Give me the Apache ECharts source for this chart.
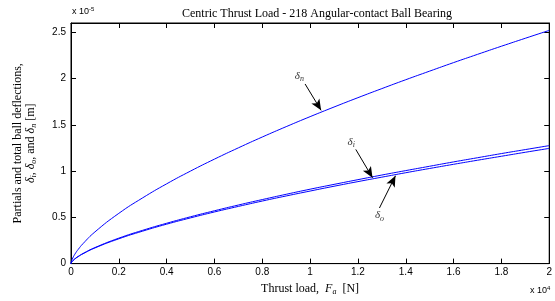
<!DOCTYPE html>
<html>
<head>
<meta charset="utf-8">
<script src="https://cdn.jsdelivr.net/npm/echarts@6/dist/echarts.min.js"></script>
<style>
  html, body { margin: 0; padding: 0; background: #fff; }
  #chart { width: 555px; height: 301px; }
</style>
</head>
<body>
<div id="chart"></div>
<script>
// thrust load, units of 1e4 N
var thrustLoad = [0, 0.002, 0.005, 0.01, 0.02, 0.03, 0.05, 0.1, 0.2, 0.3, 0.4, 0.5, 0.6, 0.7,
  0.8, 0.9, 1.0, 1.1, 1.2, 1.3, 1.4, 1.5, 1.6, 1.7, 1.8, 1.9, 2.0];
// deflections, units of 1e-5 m
var deltaN = [0, 0.025, 0.046, 0.074, 0.117, 0.153, 0.215, 0.342, 0.543, 0.711, 0.862, 1.000,
  1.129, 1.251, 1.368, 1.480, 1.588, 1.692, 1.793, 1.891, 1.987, 2.080, 2.172, 2.261, 2.349, 2.435, 2.520];
var deltaI = [0, 0.013, 0.023, 0.037, 0.059, 0.077, 0.109, 0.173, 0.275, 0.360, 0.436, 0.506,
  0.571, 0.633, 0.692, 0.749, 0.804, 0.856, 0.907, 0.957, 1.005, 1.052, 1.099, 1.144, 1.189, 1.232, 1.275];
var deltaO = [0, 0.012, 0.023, 0.037, 0.058, 0.076, 0.106, 0.169, 0.268, 0.351, 0.426, 0.494,
  0.558, 0.618, 0.676, 0.731, 0.784, 0.836, 0.886, 0.934, 0.982, 1.028, 1.073, 1.117, 1.160, 1.203, 1.245];

var pairs = function(xs, ys) {
  return xs.map(function(x, i) { return [x, ys[i]]; });
};

var serif = 'Liberation Serif';
var sans = 'Liberation Sans';

var richSub = {
  d: { fontFamily: serif, fontStyle: 'italic', fontSize: 12, color: '#000' },
  s: { fontFamily: serif, fontStyle: 'italic', fontSize: 8, color: '#000', padding: [7, 0, 0, 0] },
  t: { fontFamily: serif, fontSize: 12, color: '#000' }
};
var arrowLabel = {
  d: { fontFamily: serif, fontStyle: 'italic', fontSize: 11, color: '#333' },
  s: { fontFamily: serif, fontStyle: 'italic', fontSize: 8, color: '#333', padding: [6, 0, 0, 0] }
};

var fmt = function(v) { return String(parseFloat(v.toFixed(1))); };

// MATLAB style box: ticks point into the plot on all four sides
var lineNoZero = { show: true, onZero: false, lineStyle: { color: '#000', width: 1 } };
var tickIn = { show: true, inside: true, length: 5, lineStyle: { color: '#000', width: 1 } };

var chart = echarts.init(document.getElementById('chart'));

var option = {
  animation: false,
  backgroundColor: '#fff',
  title: {
    text: 'Centric Thrust Load - 218 Angular-contact Ball Bearing',
    left: 312, top: 3, textAlign: 'center',
    textStyle: { fontFamily: serif, fontWeight: 'normal', fontSize: 12, color: '#000' }
  },
  grid: { left: 71, right: 2, top: 23, bottom: 31, show: true, borderColor: '#000', borderWidth: 1 },
  xAxis: [{
    type: 'value', min: 0, max: 2, interval: 0.2, position: 'bottom',
    axisLine: lineNoZero,
    axisTick: tickIn,
    axisLabel: { formatter: fmt, fontFamily: sans, fontSize: 10, color: '#000', margin: 4 },
    splitLine: { show: false },
    name: '{t|Thrust load,  }{d|F}{s|a}{t|  [N]}',
    nameLocation: 'middle', nameGap: 14,
    nameTextStyle: { rich: richSub }
  }, {
    type: 'value', min: 0, max: 2, interval: 0.2, position: 'top',
    axisLine: lineNoZero,
    axisTick: tickIn,
    axisLabel: { show: false }, splitLine: { show: false }
  }],
  yAxis: [{
    type: 'value', min: 0, max: 2.6, interval: 0.5, position: 'left',
    axisLine: lineNoZero,
    axisTick: tickIn,
    axisLabel: { formatter: fmt, fontFamily: sans, fontSize: 10, color: '#000', margin: 5, showMaxLabel: false },
    splitLine: { show: false },
    name: '{t|Partials and total ball deflections,}\n{d|δ}{s|i}{t|, }{d|δ}{s|o}{t|, and }{d|δ}{s|n}{t| [m]}',
    nameLocation: 'middle', nameGap: 34, nameRotate: 90,
    nameTextStyle: { rich: richSub, lineHeight: 13, align: 'center' }
  }, {
    type: 'value', min: 0, max: 2.6, interval: 0.5, position: 'right',
    axisLine: lineNoZero,
    axisTick: tickIn,
    axisLabel: { show: false }, splitLine: { show: false }
  }],
  graphic: [{
    type: 'text', left: 72, top: 6,
    style: { text: '{b|x 10}{p|-5}', rich: {
      b: { fontFamily: sans, fontSize: 9, fill: '#000' },
      p: { fontFamily: sans, fontSize: 6, fill: '#000', padding: [0, 0, 6, 0] }
    } }
  }, {
    type: 'text', left: 530, top: 285,
    style: { text: '{b|x 10}{p|4}', rich: {
      b: { fontFamily: sans, fontSize: 9, fill: '#000' },
      p: { fontFamily: sans, fontSize: 6, fill: '#000', padding: [0, 0, 6, 0] }
    } }
  }],
  series: [{
    name: 'deltaN', type: 'line', data: pairs(thrustLoad, deltaN), smooth: true,
    showSymbol: false, lineStyle: { color: '#0000ff', width: 1 }, itemStyle: { color: '#0000ff' },
    markLine: {
      silent: true, symbol: ['none', 'arrow'], symbolSize: [7, 11],
      lineStyle: { color: '#000', width: 1, type: 'solid' }, label: { show: false },
      data: [[{ coord: [0.979, 1.941] }, { coord: [1.046, 1.656] }]]
    },
    markPoint: {
      silent: true, symbol: 'circle', symbolSize: 0,
      label: { show: true, position: 'inside', formatter: '{d|δ}{s|n}', rich: arrowLabel },
      data: [{ coord: [0.955, 2.03] }]
    }
  }, {
    name: 'deltaI', type: 'line', data: pairs(thrustLoad, deltaI), smooth: true,
    showSymbol: false, lineStyle: { color: '#0000ff', width: 1 }, itemStyle: { color: '#0000ff' },
    markLine: {
      silent: true, symbol: ['none', 'arrow'], symbolSize: [7, 11],
      lineStyle: { color: '#000', width: 1, type: 'solid' }, label: { show: false },
      data: [[{ coord: [1.191, 1.234] }, { coord: [1.261, 0.928] }]]
    },
    markPoint: {
      silent: true, symbol: 'circle', symbolSize: 0,
      label: { show: true, position: 'inside', formatter: '{d|δ}{s|i}', rich: arrowLabel },
      data: [{ coord: [1.172, 1.31] }]
    }
  }, {
    name: 'deltaO', type: 'line', data: pairs(thrustLoad, deltaO), smooth: true,
    showSymbol: false, lineStyle: { color: '#0000ff', width: 1 }, itemStyle: { color: '#0000ff' },
    markLine: {
      silent: true, symbol: ['none', 'arrow'], symbolSize: [7, 11],
      lineStyle: { color: '#000', width: 1, type: 'solid' }, label: { show: false },
      data: [[{ coord: [1.29, 0.601] }, { coord: [1.357, 0.949] }]]
    },
    markPoint: {
      silent: true, symbol: 'circle', symbolSize: 0,
      label: { show: true, position: 'inside', formatter: '{d|δ}{s|o}', rich: arrowLabel },
      data: [{ coord: [1.29, 0.52] }]
    }
  }]
};

chart.setOption(option);
</script>
</body>
</html>
